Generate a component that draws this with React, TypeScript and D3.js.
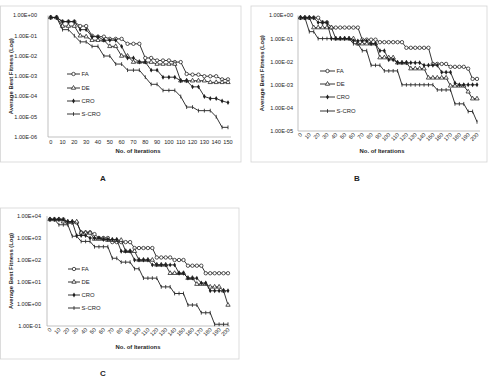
import * as d3 from "d3";

// iterations (categories)
const itersA = [0, 5, 10, 15, 20, 25, 30, 35, 40, 45, 50, 55, 60, 65, 70, 75, 80, 85, 90, 95, 100, 105, 110, 115, 120, 125, 130, 135, 140, 145, 150];
const itersBC = [0, 5, 10, 15, 20, 25, 30, 35, 40, 45, 50, 55, 60, 65, 70, 75, 80, 85, 90, 95, 100, 105, 110, 115, 120, 125, 130, 135, 140, 145, 150, 155, 160, 165, 170, 175, 180, 185, 190, 195, 200];
const xTicksA = [0, 10, 20, 30, 40, 50, 60, 70, 80, 90, 100, 110, 120, 130, 140, 150];
const xTicksBC = [0, 10, 20, 30, 40, 50, 60, 70, 80, 90, 100, 110, 120, 130, 140, 150, 160, 170, 180, 190, 200];
const yTicksA = [1, 1e-1, 1e-2, 1e-3, 1e-4, 1e-5, 1e-6];
const yTicksB = [1, 1e-1, 1e-2, 1e-3, 1e-4, 1e-5];
const yTicksC = [1e4, 1e3, 1e2, 1e1, 1, 1e-1];
const seriesNames = ["FA", "DE", "CRO", "S-CRO"];

// panel A
const faA = [0.8, 0.8, 0.5, 0.5, 0.5, 0.3, 0.3, 0.1, 0.09, 0.09, 0.07, 0.07, 0.07, 0.04, 0.04, 0.04, 0.008, 0.008, 0.006, 0.006, 0.006, 0.005, 0.005, 0.0013, 0.0012, 0.0012, 0.001, 0.001, 0.001, 0.0007, 0.0007];
const deA = [0.8, 0.8, 0.3, 0.3, 0.3, 0.1, 0.09, 0.06, 0.06, 0.06, 0.03, 0.03, 0.01, 0.01, 0.005, 0.005, 0.005, 0.005, 0.004, 0.004, 0.004, 0.004, 0.0006, 0.0006, 0.0006, 0.0006, 0.0006, 0.0005, 0.0005, 0.0005, 0.0005];
const croA = [0.8, 0.8, 0.5, 0.5, 0.5, 0.2, 0.2, 0.09, 0.09, 0.06, 0.06, 0.06, 0.03, 0.008, 0.008, 0.005, 0.005, 0.002, 0.002, 0.0009, 0.0009, 0.0009, 0.0006, 0.0006, 0.0003, 0.0003, 0.0001, 0.00008, 0.00008, 0.00006, 0.00005];
const scroA = [0.8, 0.8, 0.2, 0.2, 0.1, 0.05, 0.05, 0.03, 0.03, 0.01, 0.01, 0.004, 0.004, 0.002, 0.002, 0.002, 0.0009, 0.0004, 0.0004, 0.0002, 0.0002, 0.0002, 0.0001, 0.00003, 0.00003, 0.00002, 0.00002, 0.00002, 0.00001, 0.000003, 0.000003];

// panel B
const faB = [0.8, 0.8, 0.8, 0.8, 0.8, 0.5, 0.5, 0.3, 0.3, 0.3, 0.3, 0.3, 0.3, 0.3, 0.09, 0.09, 0.09, 0.09, 0.07, 0.07, 0.07, 0.07, 0.07, 0.07, 0.04, 0.04, 0.04, 0.04, 0.04, 0.04, 0.008, 0.008, 0.008, 0.008, 0.006, 0.006, 0.006, 0.006, 0.005, 0.0018, 0.0018];
const deB = [0.8, 0.8, 0.8, 0.3, 0.3, 0.3, 0.3, 0.3, 0.1, 0.1, 0.1, 0.1, 0.1, 0.06, 0.06, 0.06, 0.06, 0.06, 0.015, 0.015, 0.015, 0.015, 0.009, 0.009, 0.009, 0.005, 0.005, 0.005, 0.005, 0.002, 0.002, 0.002, 0.002, 0.002, 0.0009, 0.0009, 0.0009, 0.0009, 0.0005, 0.00025, 0.00025];
const croB = [0.8, 0.8, 0.8, 0.8, 0.5, 0.5, 0.5, 0.1, 0.1, 0.1, 0.1, 0.1, 0.08, 0.08, 0.08, 0.08, 0.06, 0.06, 0.03, 0.03, 0.012, 0.012, 0.009, 0.009, 0.009, 0.009, 0.009, 0.009, 0.007, 0.007, 0.007, 0.007, 0.0035, 0.0035, 0.0035, 0.0012, 0.001, 0.001, 0.001, 0.001, 0.001];
const scroB = [0.8, 0.8, 0.2, 0.2, 0.1, 0.1, 0.1, 0.1, 0.1, 0.1, 0.1, 0.1, 0.06, 0.06, 0.03, 0.03, 0.007, 0.007, 0.007, 0.004, 0.004, 0.004, 0.004, 0.001, 0.001, 0.001, 0.001, 0.001, 0.001, 0.001, 0.001, 0.0006, 0.0006, 0.0006, 0.0006, 0.00015, 0.00015, 0.00015, 0.00007, 0.00007, 0.000025];

// panel C
const faC = [7000, 7000, 7000, 7000, 5000, 5000, 5000, 1800, 1800, 1800, 1500, 1000, 1000, 1000, 650, 650, 650, 650, 650, 350, 350, 350, 350, 350, 130, 130, 130, 130, 100, 100, 100, 55, 55, 55, 55, 25, 25, 25, 25, 25, 25];
const deC = [7000, 7000, 7000, 5500, 5500, 5500, 5500, 1700, 1700, 1700, 900, 900, 900, 800, 800, 800, 800, 250, 250, 250, 100, 100, 100, 100, 60, 60, 60, 25, 25, 25, 25, 15, 15, 8, 8, 8, 6, 6, 6, 4, 0.9];
const croC = [7000, 7000, 7000, 7000, 5500, 5500, 1300, 1300, 1300, 1000, 1000, 1000, 850, 850, 850, 850, 250, 250, 250, 100, 100, 100, 100, 60, 60, 60, 60, 60, 60, 25, 25, 15, 15, 15, 9, 9, 4, 4, 4, 4, 4];
const scroC = [7000, 7000, 4000, 4000, 4000, 1200, 1200, 700, 700, 700, 400, 400, 400, 400, 120, 120, 80, 80, 80, 40, 40, 15, 15, 15, 15, 6, 6, 6, 3, 3, 3, 0.9, 0.9, 0.9, 0.4, 0.4, 0.4, 0.12, 0.12, 0.12, 0.12];

const FONT = "Arial, 'Liberation Sans', sans-serif";
const INK = "#1e1e1e";

const fmtE = (v: number) => {
  const e = Math.round(Math.log10(v));
  return `1.00E${e < 0 ? "-" : "+"}${String(Math.abs(e)).padStart(2, "0")}`;
};

function Marker({ kind, x, y }: { kind: number; x: number; y: number }) {
  if (kind === 0) return <circle cx={x} cy={y} r={1.7} fill="#fff" stroke={INK} strokeWidth={0.75} />;
  if (kind === 1) {
    const p = d3.symbol().type(d3.symbolTriangle).size(8)();
    return <path d={p || ""} transform={`translate(${x},${y})`} fill="#fff" stroke={INK} strokeWidth={0.75} />;
  }
  if (kind === 2) {
    const p = d3.symbol().type(d3.symbolDiamond).size(7)();
    return <path d={p || ""} transform={`translate(${x},${y})`} fill={INK} />;
  }
  return <line x1={x} x2={x} y1={y - 1.9} y2={y + 1.9} stroke={INK} strokeWidth={0.8} />;
}

type PanelProps = {
  box: [number, number, number, number];
  axisX: [number, number];
  xRange: [number, number];
  xDomain: [number, number];
  yRange: [number, number];
  yTicks: number[];
  iters: number[];
  xTicks: number[];
  series: number[][];
  rotated: boolean;
  labelRight: number;
  yTitleX: number;
  xTitle: [number, number];
  legend: [number, number, number[]];
  letter: [string, number, number];
};

function Panel(p: PanelProps) {
  const x = d3.scaleLinear().domain(p.xDomain).range(p.xRange);
  const y = d3.scaleLog().domain([p.yTicks[0], p.yTicks[p.yTicks.length - 1]]).range(p.yRange);
  const [bx, by, bw, bh] = p.box;
  const yAxis = p.yRange[1];
  const yTitleY = (p.yRange[0] + p.yRange[1]) / 2;
  const line = d3.line<number>().x((_, i) => x(p.iters[i])).y(d => y(d));
  const [lx, ly, legYs] = p.legend;
  return (
    <g>
      <rect x={bx} y={by} width={bw} height={bh} fill="#fff" stroke="#d4d4d4" strokeWidth={0.8} />
      <line x1={p.axisX[0]} x2={p.axisX[0]} y1={p.yRange[0]} y2={yAxis} stroke="#a8a8a8" strokeWidth={0.7} />
      <line x1={p.axisX[0]} x2={p.axisX[1]} y1={yAxis} y2={yAxis} stroke="#a8a8a8" strokeWidth={0.7} />
      {p.yTicks.map(t => (
        <text key={t} x={p.labelRight} y={y(t) + 1.9} textAnchor="end" fontSize={5.6} fill={INK} fontFamily={FONT}>{fmtE(t)}</text>
      ))}
      {p.xTicks.map(t => p.rotated ? (
        <text key={t} transform={`translate(${x(t) + 2},${yAxis + 4}) rotate(-45)`} textAnchor="end" fontSize={5.6} fill={INK} fontFamily={FONT}>{t}</text>
      ) : (
        <text key={t} x={x(t)} y={yAxis + 7} textAnchor="middle" fontSize={5.6} fill={INK} fontFamily={FONT}>{t}</text>
      ))}
      <text transform={`translate(${p.yTitleX},${yTitleY}) rotate(-90)`} textAnchor="middle" fontSize={5.9} fontWeight="bold" fill={INK} fontFamily={FONT}>Average Best Fitness (Log)</text>
      <text x={p.xTitle[0]} y={p.xTitle[1]} textAnchor="middle" fontSize={5.9} fontWeight="bold" fill={INK} fontFamily={FONT}>No. of Iterations</text>
      {p.series.map((s, k) => (
        <g key={k}>
          <path d={line(s) || ""} fill="none" stroke={INK} strokeWidth={0.9} />
          {s.map((v, i) => <Marker key={i} kind={k} x={x(p.iters[i])} y={y(v)} />)}
        </g>
      ))}
      {seriesNames.map((n, k) => (
        <g key={n}>
          <line x1={lx} x2={ly} y1={legYs[k]} y2={legYs[k]} stroke={INK} strokeWidth={0.9} />
          <Marker kind={k} x={(lx + ly) / 2} y={legYs[k]} />
          <text x={ly + 1.5} y={legYs[k] + 2} fontSize={5.9} fill={INK} fontFamily={FONT}>{n}</text>
        </g>
      ))}
      <text x={p.letter[1]} y={p.letter[2]} textAnchor="middle" fontSize={8} fontWeight="bold" fill={INK} fontFamily={FONT}>{p.letter[0]}</text>
    </g>
  );
}

export default function App() {
  return (
    <svg width={489} height={377} viewBox="0 0 489 377" style={{ position: "absolute", left: 0, top: 0, background: "#fff" }}>
      <rect width={489} height={377} fill="#fff" />
      <Panel
        box={[0.5, 6, 240.5, 156]}
        axisX={[48, 231]}
        xRange={[50.7, 228]}
        xDomain={[0, 150]}
        yRange={[15.5, 137]}
        yTicks={yTicksA}
        iters={itersA}
        xTicks={xTicksA}
        series={[faA, deA, croA, scroA]}
        rotated={false}
        labelRight={37}
        yTitleX={13}
        xTitle={[138, 153]}
        legend={[67, 80, [74, 88, 101, 114]]}
        letter={["A", 103, 181]}
      />
      <Panel
        box={[251, 6, 236, 156]}
        axisX={[298, 480]}
        xRange={[300.5, 477]}
        xDomain={[0, 200]}
        yRange={[15.5, 131]}
        yTicks={yTicksB}
        iters={itersBC}
        xTicks={xTicksBC}
        series={[faB, deB, croB, scroB]}
        rotated={true}
        labelRight={293}
        yTitleX={264}
        xTitle={[382, 153]}
        legend={[320, 335, [71, 84, 97, 111]]}
        letter={["B", 357, 181]}
      />
      <Panel
        box={[0.5, 208, 238.5, 151]}
        axisX={[47, 230]}
        xRange={[50, 228]}
        xDomain={[0, 200]}
        yRange={[216, 326]}
        yTicks={yTicksC}
        iters={itersBC}
        xTicks={xTicksBC}
        series={[faC, deC, croC, scroC]}
        rotated={true}
        labelRight={41}
        yTitleX={13}
        xTitle={[138, 349]}
        legend={[68, 80, [269, 282, 295, 308]]}
        letter={["C", 103, 376]}
      />
    </svg>
  );
}
